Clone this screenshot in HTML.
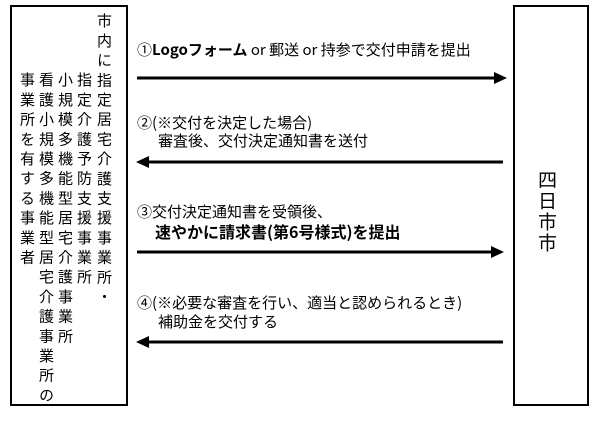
<!DOCTYPE html>
<html><head><meta charset="utf-8"><style>
body{margin:0;width:600px;height:425px;background:#fff;position:relative;font-family:"Liberation Sans","Noto Sans CJK JP",sans-serif;color:#000;overflow:hidden}
.box{position:absolute;border:2px solid #000;box-sizing:border-box}
.col{position:absolute;writing-mode:vertical-rl;font-size:15px;line-height:16px;letter-spacing:4.7px;white-space:nowrap;font-family:"Noto Sans CJK JP",sans-serif}
.t{position:absolute;font-size:15px;white-space:nowrap;line-height:18px;font-family:"Noto Sans CJK JP",sans-serif}
</style></head><body>
<div class="box" style="left:10px;top:5px;width:118px;height:401px"></div>
<div class="box" style="left:513px;top:5px;width:76px;height:401px"></div>
<div class="col" style="left:96px;top:13px">市内に指定居宅介護支援事業所・</div>
<div class="col" style="left:76px;top:72px">指定介護予防支援事業所</div>
<div class="col" style="left:57px;top:72px">小規模多機能型居宅介護事業所</div>
<div class="col" style="left:38px;top:72px">看護小規模多機能型居宅介護事業所の</div>
<div class="col" style="left:19px;top:72px">事業所を有する事業者</div>
<div style="position:absolute;left:537px;top:170px;writing-mode:vertical-rl;font-size:19px;line-height:20px;letter-spacing:2px;font-family:'Noto Sans CJK JP',sans-serif">四日市市</div>
<div class="t" style="left:137px;top:41px">①<b>Logoフォーム</b> or 郵送 or 持参で交付申請を提出</div>
<div class="t" style="left:137px;top:114px">②(※交付を決定した場合)</div>
<div class="t" style="left:158px;top:132px">審査後、交付決定通知書を送付</div>
<div class="t" style="left:137px;top:203px">③交付決定通知書を受領後、</div>
<div class="t" style="left:155px;top:222px;font-weight:bold;font-size:16px">速やかに請求書(第6号様式)を提出</div>
<div class="t" style="left:137px;top:294px">④(※必要な審査を行い、適当と認められるとき)</div>
<div class="t" style="left:158px;top:313px">補助金を交付する</div>
<svg width="600" height="425" style="position:absolute;left:0;top:0">
<g stroke="#000" stroke-width="3">
<line x1="137" y1="78" x2="496" y2="78"/>
<line x1="147" y1="162" x2="503" y2="162"/>
<line x1="137" y1="252" x2="493" y2="252"/>
<line x1="147" y1="342" x2="503" y2="342"/>
</g>
<polygon points="507,78 494,72 494,84"/>
<polygon points="136,162 149,156 149,168"/>
<polygon points="504,252 491,246 491,258"/>
<polygon points="136,342 149,336 149,348"/>
</svg>
</body></html>
